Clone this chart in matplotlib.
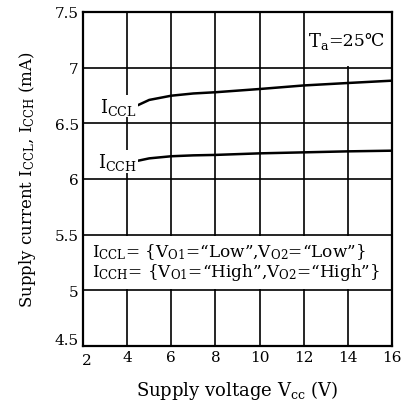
import matplotlib
matplotlib.use("Agg")
import matplotlib.pyplot as plt
from matplotlib.patches import Rectangle
from matplotlib.transforms import ScaledTranslation

plt.rcParams['font.family'] = ['DejaVu Serif', 'DejaVu Sans']
plt.rcParams['mathtext.fontset'] = 'dejavuserif'

# Data
vcc = [4.5, 5.0, 6.0, 7.0, 8.0, 10.0, 12.0, 14.0, 16.0]
iccl = [6.664, 6.71, 6.748, 6.768, 6.779, 6.808, 6.840, 6.862, 6.883]
icch = [6.164, 6.185, 6.204, 6.212, 6.216, 6.230, 6.239, 6.248, 6.254]
xticks = [2, 4, 6, 8, 10, 12, 14, 16]
yticks = [4.5, 5, 5.5, 6, 6.5, 7, 7.5]
ytick_labels = ['4.5', '5', '5.5', '6', '6.5', '7', '7.5']

fig = plt.figure(figsize=(4.01, 4.02), dpi=100)
ax = fig.add_axes([0.207, 0.137, 0.7706, 0.8307])
ax.set_xlim(2, 16)
ax.set_ylim(4.5, 7.5)
ax.set_xticks(xticks)
ax.set_yticks(yticks)
ax.set_xticklabels([str(t) for t in xticks], fontsize=11)
ax.set_yticklabels(ytick_labels, fontsize=11)
ax.tick_params(length=0, pad=3)
ax.grid(True, color='black', lw=1.2, zorder=1)
ax.set_axisbelow(True)
for s in ax.spines.values():
    s.set_linewidth(1.6)
    s.set_zorder(10)

# nudge corner labels apart as in the reference
xl = ax.get_xticklabels()[0]
xl.set_transform(xl.get_transform() + ScaledTranslation(3/72, -2/72, fig.dpi_scale_trans))
yl = ax.get_yticklabels()[0]
yl.set_transform(yl.get_transform() + ScaledTranslation(0, 5/72, fig.dpi_scale_trans))

# White boxes that interrupt the grid
ax.add_patch(Rectangle((12.06, 7.012), 3.94, 0.488, facecolor='white', edgecolor='none', zorder=2))
ax.add_patch(Rectangle((2.0, 5.012), 14.0, 0.476, facecolor='white', edgecolor='none', zorder=2))

ax.plot(vcc, iccl, color='black', lw=1.8, zorder=4)
ax.plot(vcc, icch, color='black', lw=1.8, zorder=4)

ax.text(4.45, 6.655, r'$\mathrm{I_{CCL}}$', fontsize=13, ha='right', va='center', zorder=5,
        bbox=dict(facecolor='white', edgecolor='none', pad=0.5))
ax.text(4.45, 6.155, r'$\mathrm{I_{CCH}}$', fontsize=13, ha='right', va='center', zorder=5,
        bbox=dict(facecolor='white', edgecolor='none', pad=0.5))

ax.text(12.2, 7.24, r'$\mathrm{T_a}$', fontsize=13, ha='left', va='center', zorder=5)
ax.text(13.12, 7.24, '=25℃', fontsize=12.5, ha='left', va='center', zorder=5,
        family=['DejaVu Serif', 'DejaVu Sans'])

ax.text(2.4, 5.355, r'$\mathrm{I_{CCL}}$= {V$\mathrm{_{O1}}$=“Low”,V$\mathrm{_{O2}}$=“Low”}',
        fontsize=12.2, ha='left', va='center', zorder=5)
ax.text(2.4, 5.165, r'$\mathrm{I_{CCH}}$= {V$\mathrm{_{O1}}$=“High”,V$\mathrm{_{O2}}$=“High”}',
        fontsize=12.2, ha='left', va='center', zorder=5)

ax.set_xlabel(r'Supply voltage V$\mathrm{_{cc}}$ (V)', fontsize=13, labelpad=8)
ax.set_ylabel(r'Supply current $\mathrm{I_{CCL}}$, $\mathrm{I_{CCH}}$ (mA)', fontsize=12, labelpad=12)

fig.savefig('out.png', dpi=100)
